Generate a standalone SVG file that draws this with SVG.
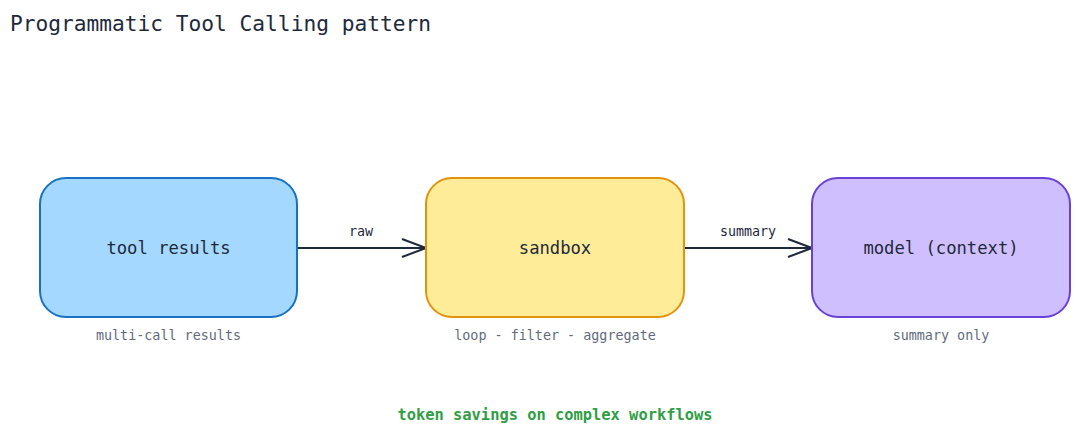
<svg xmlns="http://www.w3.org/2000/svg" width="1080" height="436" viewBox="0 0 1080 436">
<style>
text{font-family:"DejaVu Sans Mono","Liberation Mono",monospace}
.title{font-size:21.2px;fill:#1e293b}
.node{stroke-width:2}
.lbl{font-size:17.2px;fill:#1e293b;text-anchor:middle}
.sub{font-size:13.4px;fill:#5f6b7d;text-anchor:middle}
.edge{stroke:#1e293b;stroke-width:2;fill:none}
.elbl{font-size:13.3px;fill:#1e293b;text-anchor:middle}
.note{font-size:15.4px;fill:#2f9e44;text-anchor:middle;font-weight:bold}
</style>
<defs>
<marker id="arr" viewBox="0 0 26 20" refX="25" refY="10" markerWidth="26" markerHeight="20" markerUnits="userSpaceOnUse" orient="auto">
<path d="M1,1 L25,10 L1,19" fill="none" stroke="#1e293b" stroke-width="2"/>
</marker>
</defs>
<rect width="1080" height="436" fill="#ffffff"/>
<text class="title" x="10" y="31">Programmatic Tool Calling pattern</text>
<g id="connectors">
<line class="edge" x1="297" y1="248" x2="426" y2="248" marker-end="url(#arr)"/>
<text class="elbl" x="361" y="236">raw</text>
<line class="edge" x1="684" y1="248" x2="812" y2="248" marker-end="url(#arr)"/>
<text class="elbl" x="748" y="236">summary</text>
</g>
<g id="tool-results">
<rect class="node" x="40" y="178" width="257" height="139" rx="26" fill="#a5d8ff" stroke="#1971c2"/>
<text class="lbl" x="168.5" y="254">tool results</text>
<text class="sub" x="168.5" y="340">multi-call results</text>
</g>
<g id="sandbox">
<rect class="node" x="426" y="178" width="258" height="139" rx="26" fill="#ffec99" stroke="#e0930f"/>
<text class="lbl" x="555" y="254">sandbox</text>
<text class="sub" x="555" y="340">loop - filter - aggregate</text>
</g>
<g id="model">
<rect class="node" x="812" y="178" width="258" height="139" rx="26" fill="#d0bfff" stroke="#6741d9"/>
<text class="lbl" x="941" y="254">model (context)</text>
<text class="sub" x="941" y="340">summary only</text>
</g>
<text class="note" x="555" y="420">token savings on complex workflows</text>
</svg>
